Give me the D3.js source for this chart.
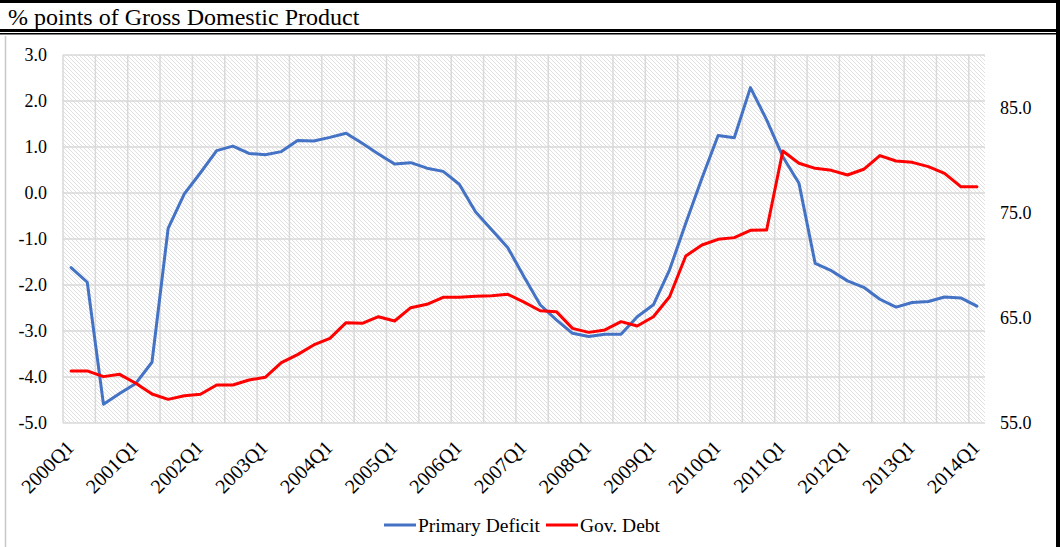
<!DOCTYPE html>
<html>
<head>
<meta charset="utf-8">
<script src="https://cdn.jsdelivr.net/npm/d3@7"></script>
<style>
  html, body { margin: 0; padding: 0; background: #fff; }
  svg { display: block; font-family: "Liberation Serif", "Times New Roman", serif; }
</style>
</head>
<body>
<svg id="chart" width="1060" height="547"></svg>
<script>
// Quarterly categories
const quarters = [
  "2000Q1","2000Q2","2000Q3","2000Q4","2001Q1","2001Q2","2001Q3","2001Q4",
  "2002Q1","2002Q2","2002Q3","2002Q4","2003Q1","2003Q2","2003Q3","2003Q4",
  "2004Q1","2004Q2","2004Q3","2004Q4","2005Q1","2005Q2","2005Q3","2005Q4",
  "2006Q1","2006Q2","2006Q3","2006Q4","2007Q1","2007Q2","2007Q3","2007Q4",
  "2008Q1","2008Q2","2008Q3","2008Q4","2009Q1","2009Q2","2009Q3","2009Q4",
  "2010Q1","2010Q2","2010Q3","2010Q4","2011Q1","2011Q2","2011Q3","2011Q4",
  "2012Q1","2012Q2","2012Q3","2012Q4","2013Q1","2013Q2","2013Q3","2013Q4",
  "2014Q1"
];

// Primary deficit, % of GDP (left axis)
const primaryDeficit = [
  -1.62, -1.94, -4.59, -4.36, -4.14, -3.68, -0.77, -0.02,
   0.44,  0.92,  1.02,  0.86,  0.83,  0.90,  1.14,  1.13,
   1.21,  1.30,  1.08,  0.85,  0.63,  0.66,  0.54,  0.47,
   0.19, -0.41, -0.80, -1.19, -1.82, -2.43, -2.76, -3.05,
  -3.12, -3.07, -3.07, -2.69, -2.43, -1.67, -0.66,  0.32,
   1.25,  1.20,  2.29,  1.59,  0.79,  0.21, -1.53, -1.69,
  -1.91, -2.05, -2.31, -2.48, -2.38, -2.36, -2.26, -2.28,
  -2.46
];

// Government debt, % of GDP (right axis)
const govDebt = [
  59.95, 59.95, 59.41, 59.63, 58.78, 57.76, 57.25, 57.60,
  57.73, 58.61, 58.61, 59.09, 59.35, 60.74, 61.50, 62.42,
  63.05, 64.54, 64.48, 65.11, 64.70, 65.97, 66.29, 66.95,
  66.95, 67.05, 67.11, 67.24, 66.50, 65.68, 65.59, 64.00,
  63.62, 63.85, 64.64, 64.23, 65.11, 67.01, 70.88, 71.93,
  72.47, 72.63, 73.33, 73.36, 80.87, 79.70, 79.22, 79.03,
  78.59, 79.13, 80.43, 79.92, 79.79, 79.38, 78.75, 77.48,
  77.48
];

const leftTicks = [-5, -4, -3, -2, -1, 0, 1, 2, 3];
const rightTicks = [55, 65, 75, 85];
const xLabels = ["2000Q1","2001Q1","2002Q1","2003Q1","2004Q1","2005Q1","2006Q1","2007Q1",
                 "2008Q1","2009Q1","2010Q1","2011Q1","2012Q1","2013Q1","2014Q1"];

const seriesNames = ["Primary Deficit", "Gov. Debt"];
const seriesColors = ["#4472C4", "#FF0000"];

const svg = d3.select("#chart");
const W = 1060, H = 547;
const plot = { left: 63, right: 985, top: 55, bottom: 423 };
const serif = "Liberation Serif, Times New Roman, serif";

// Frame: top bar, title rules, side borders
svg.append("rect").attr("x", 0).attr("y", 0).attr("width", W).attr("height", 3).attr("fill", "#000");
svg.append("text")
  .attr("x", 8).attr("y", 25)
  .attr("font-family", serif).attr("font-size", 24).attr("fill", "#000")
  .text("% points of Gross Domestic Product");
svg.append("rect").attr("x", 0).attr("y", 29).attr("width", W).attr("height", 3).attr("fill", "#000");
svg.append("rect").attr("x", 0).attr("y", 33).attr("width", W).attr("height", 1.5).attr("fill", "#000");
svg.append("line").attr("x1", 5.5).attr("x2", 5.5).attr("y1", 36).attr("y2", H)
  .attr("stroke", "#c8c8c8").attr("stroke-width", 1.5);
svg.append("rect").attr("x", 1056).attr("y", 0).attr("width", 4).attr("height", H).attr("fill", "#000");

// Scales
const x = d3.scaleBand().domain(quarters).range([plot.left, plot.right]).paddingInner(0).paddingOuter(0);
const xc = q => x(q) + x.bandwidth() / 2;
const yL = d3.scaleLinear().domain([-5, 3]).range([plot.bottom, plot.top]);
const yR = d3.scaleLinear().domain([55, 90]).range([plot.bottom, plot.top]);

// Hatched plot background: one-pixel downward diagonal
const defs = svg.append("defs");
const pat = defs.append("pattern")
  .attr("id", "hatch").attr("patternUnits", "userSpaceOnUse")
  .attr("width", 4).attr("height", 4);
pat.append("rect").attr("width", 4).attr("height", 4).attr("fill", "#fff");
pat.selectAll("rect.px").data([0, 1, 2, 3]).join("rect").attr("class", "px")
  .attr("x", d => d).attr("y", d => d).attr("width", 1).attr("height", 1)
  .attr("fill", "#e0e0e0").attr("shape-rendering", "crispEdges");

svg.append("rect")
  .attr("x", plot.left).attr("y", plot.top)
  .attr("width", plot.right - plot.left).attr("height", plot.bottom - plot.top)
  .attr("fill", "url(#hatch)");

// Gridlines
const grid = svg.append("g").attr("stroke", "#d9d9d9").attr("stroke-width", 1.5);
grid.selectAll("line.h").data(leftTicks).join("line").attr("class", "h")
  .attr("x1", plot.left).attr("x2", plot.right)
  .attr("y1", d => yL(d)).attr("y2", d => yL(d));
grid.selectAll("line.v").data(quarters.filter((q, i) => i % 2 === 0)).join("line").attr("class", "v")
  .attr("x1", d => x(d)).attr("x2", d => x(d))
  .attr("y1", plot.top).attr("y2", plot.bottom);

// Axes
const fmt = d => d.toFixed(1);
const leftAxis = svg.append("g").attr("transform", `translate(${plot.left},0)`)
  .call(d3.axisLeft(yL).tickValues(leftTicks).tickFormat(fmt).tickSize(0).tickPadding(16));
const rightAxis = svg.append("g").attr("transform", `translate(${plot.right},0)`)
  .call(d3.axisRight(yR).tickValues(rightTicks).tickFormat(fmt).tickSize(0).tickPadding(15));
const bottomAxis = svg.append("g").attr("transform", `translate(0,${plot.bottom})`)
  .call(d3.axisBottom(x).tickValues(xLabels).tickSize(0));

[leftAxis, rightAxis, bottomAxis].forEach(a => {
  a.select(".domain").remove();
  a.attr("font-family", serif);
  a.selectAll("text").attr("font-family", serif).attr("font-size", 18).attr("fill", "#000");
});

bottomAxis.selectAll("text")
  .attr("font-size", 20)
  .attr("x", -15.5).attr("y", 14).attr("dy", "0.35em")
  .attr("text-anchor", "end")
  .attr("transform", "rotate(-45)");

// Series lines
const lineL = d3.line().x((d, i) => xc(quarters[i])).y(d => yL(d));
const lineR = d3.line().x((d, i) => xc(quarters[i])).y(d => yR(d));

svg.append("path").datum(primaryDeficit)
  .attr("d", lineL).attr("fill", "none")
  .attr("stroke", seriesColors[0]).attr("stroke-width", 3)
  .attr("stroke-linejoin", "round").attr("stroke-linecap", "round");
svg.append("path").datum(govDebt)
  .attr("d", lineR).attr("fill", "none")
  .attr("stroke", seriesColors[1]).attr("stroke-width", 3)
  .attr("stroke-linejoin", "round").attr("stroke-linecap", "round");

// Legend
const legend = svg.append("g").attr("transform", "translate(0,525)");
const legendX = [384, 546];
seriesNames.forEach((name, i) => {
  const g = legend.append("g").attr("transform", `translate(${legendX[i]},0)`);
  g.append("line").attr("x1", 0).attr("x2", 32).attr("y1", 0).attr("y2", 0)
    .attr("stroke", seriesColors[i]).attr("stroke-width", 3);
  g.append("text").attr("x", 34).attr("y", 0).attr("dy", "0.35em")
    .attr("font-family", serif).attr("font-size", 19.5).attr("fill", "#000").text(name);
});
</script>
</body>
</html>
